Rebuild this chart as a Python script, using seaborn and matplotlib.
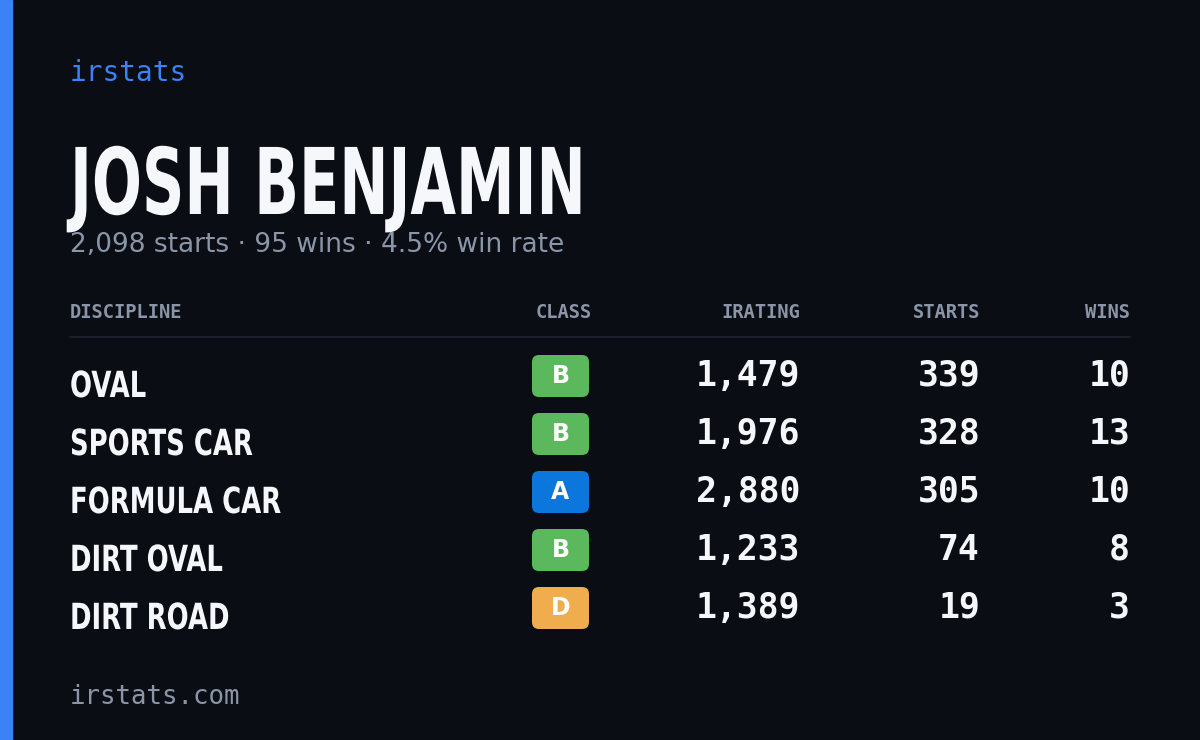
import matplotlib
matplotlib.use("Agg")
import matplotlib.pyplot as plt
import seaborn as sns
from matplotlib.patches import FancyBboxPatch, Rectangle, PathPatch
from matplotlib.textpath import TextPath
from matplotlib.font_manager import FontProperties
from matplotlib.transforms import Affine2D

# card data
driver = "JOSH BENJAMIN"
summary = "2,098 starts · 95 wins · 4.5% win rate"
headers = ["DISCIPLINE", "CLASS", "IRATING", "STARTS", "WINS"]
disciplines = ["OVAL", "SPORTS CAR", "FORMULA CAR", "DIRT OVAL", "DIRT ROAD"]
classes = ["B", "B", "A", "B", "D"]
iratings = [1479, 1976, 2880, 1233, 1389]
starts = [339, 328, 305, 74, 19]
wins = [10, 13, 10, 8, 3]
class_colors = {"A": "#0b76db", "B": "#5cb85c", "C": "#f5d547", "D": "#f0ad4e"}

BG = "#0a0d14"
GREY = "#8b95a8"
WHITE = "#f5f7fb"
MONO = "DejaVu Sans Mono"

sns.set_theme(style="dark", rc={"axes.facecolor": BG, "figure.facecolor": BG})
plt.rcParams["font.family"] = ["DejaVu Sans"]

fig = plt.figure(figsize=(12, 7.4), dpi=100)
ax = fig.add_axes([0, 0, 1, 1])
ax.set_xlim(0, 1200)
ax.set_ylim(740, 0)
ax.axis("off")


def narrow_text(s, x, baseline, size_px, xscale, color):
    # no condensed font installed, so squeeze a bold path horizontally
    tp = TextPath((0, 0), s, size=size_px, prop=FontProperties(family="DejaVu Sans", weight="bold"))
    tr = Affine2D().scale(xscale, -1).translate(x, baseline) + ax.transData
    ax.add_patch(PathPatch(tp, color=color, lw=0, transform=tr))


ax.add_patch(Rectangle((0, 0), 12, 740, color="#3b82f6"))

ax.text(70, 73, "irstats", color="#3b82f6", fontsize=20, family=MONO, va="center")
narrow_text(driver, 70, 214, 92, 0.64, WHITE)
ax.text(70, 245, summary, color=GREY, fontsize=19, va="center")

# header row
hx = [70, 592, 800, 980, 1130]
ha = ["left", "right", "right", "right", "right"]
for x, h, a in zip(hx, headers, ha):
    ax.text(x, 313, h, color=GREY, fontsize=13.5, family=MONO, weight="bold", ha=a, va="center")
ax.plot([70, 1130], [337, 337], color="#1f2431", lw=1.2)

for i, (d, c, ir, s, w) in enumerate(zip(disciplines, classes, iratings, starts, wins)):
    y = 376 + 58 * i
    narrow_text(d, 70, y + 21, 36, 0.72, WHITE)
    ax.add_patch(FancyBboxPatch((532, y - 21), 57, 42, boxstyle="round,pad=0,rounding_size=7",
                                color=class_colors[c], lw=0))
    ax.text(560.5, y, c, color="white", fontsize=17, weight="bold", ha="center", va="center")
    for x, v in zip([800, 980, 1130], [ir, s, w]):
        ax.text(x, y, f"{v:,}", color=WHITE, fontsize=25, family=MONO, weight="bold",
                ha="right", va="center")

ax.text(70, 697, "irstats.com", color=GREY, fontsize=18.5, family=MONO, va="center")

fig.savefig("out.png", dpi=100, facecolor=BG)
